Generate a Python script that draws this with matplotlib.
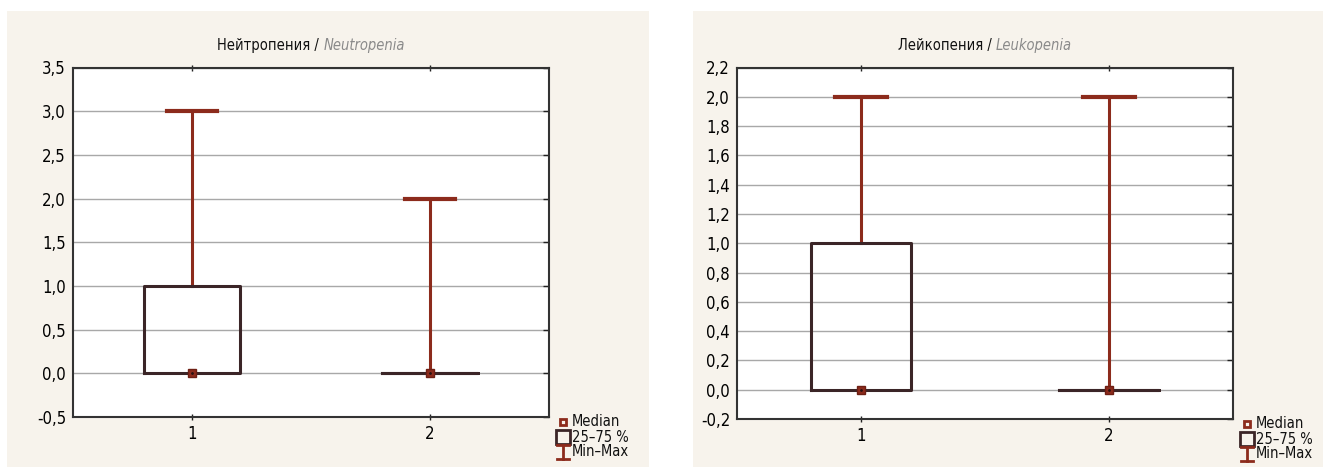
import matplotlib.pyplot as plt
from matplotlib.patches import Rectangle
from matplotlib.lines import Line2D

plt.rcParams['font.family'] = ['DejaVu Sans']
plt.rcParams['font.stretch'] = 'condensed'

# Data
groups = [1, 2]
neutro_med = [0.0, 0.0]
neutro_q1 = [0.0, 0.0]
neutro_q3 = [1.0, 0.0]
neutro_min = [0.0, 0.0]
neutro_max = [3.0, 2.0]

leuko_med = [0.0, 0.0]
leuko_q1 = [0.0, 0.0]
leuko_q3 = [1.0, 0.0]
leuko_min = [0.0, 0.0]
leuko_max = [2.0, 2.0]

neutro_ticks = [-0.5, 0.0, 0.5, 1.0, 1.5, 2.0, 2.5, 3.0, 3.5]
leuko_ticks = [-0.2, 0.0, 0.2, 0.4, 0.6, 0.8, 1.0, 1.2, 1.4, 1.6, 1.8, 2.0, 2.2]

BG = '#f7f3ec'
RED = '#8c2b1c'
BROWN = '#3b2527'

W, H = 1323, 467
fig = plt.figure(figsize=(W / 100, H / 100), dpi=100)

# beige panel backgrounds
for x0, x1 in [(7, 649), (693, 1323)]:
    fig.patches.append(Rectangle((x0 / W, 0), (x1 - x0) / W, 1 - 11 / H,
                                 transform=fig.transFigure, facecolor=BG,
                                 edgecolor='none', zorder=-10))


def panel(rect, med, q1, q3, lo, hi, ticks, ru, en):
    ax = fig.add_axes(rect)
    stats = [dict(med=m, q1=a, q3=b, whislo=c, whishi=d)
             for m, a, b, c, d in zip(med, q1, q3, lo, hi)]
    parts = ax.bxp(stats, positions=groups, widths=0.4, capwidths=0.21,
                   showfliers=False, patch_artist=False,
                   boxprops=dict(color=BROWN, lw=2.2),
                   whiskerprops=dict(color=RED, lw=2.2),
                   capprops=dict(color=RED, lw=3),
                   medianprops=dict(color=BROWN, lw=0))
    # lower caps sit on the box edge at 0 - hide them
    for cap in parts['caps'][0::2]:
        cap.set_visible(False)
    for box in parts['boxes']:
        box.set_zorder(4)
    ax.plot(groups, med, ls='none', marker='s', ms=6, mfc=RED, mec='#6e1f14',
            mew=1, zorder=5)
    ax.plot(groups, med, ls='none', marker='.', ms=2, color='#2a1010', zorder=6)

    ax.set_xlim(0.5, 2.5)
    ax.set_ylim(ticks[0], ticks[-1])
    ax.set_yticks(ticks)
    ax.set_yticklabels([f'{t:.1f}'.replace('.', ',') for t in ticks])
    ax.set_xticks(groups)
    ax.set_xticklabels([str(g) for g in groups])
    ax.yaxis.grid(True, color='#a8a8a8', lw=1)
    ax.set_axisbelow(True)
    ax.tick_params(axis='both', labelsize=12, length=4, width=1, color='#222222')
    ax.tick_params(axis='x', direction='inout', top=True)
    ax.tick_params(axis='y', direction='in', right=True, left=False, pad=5)
    for s in ax.spines.values():
        s.set_color('#333333')
        s.set_linewidth(1.5)

    # title in two parts
    fig.canvas.draw()
    bb = ax.get_position()
    xc = (bb.x0 + bb.x1) / 2
    t1 = fig.text(0, 0.9015, ru + ' / ', fontsize=10.5, color='#111111', va='center')
    t2 = fig.text(0, 0.9015, en, fontsize=10.5, color='#8a8a8a', style='italic',
                  va='center')
    r = fig.canvas.get_renderer()
    w1 = t1.get_window_extent(r).width / W
    w2 = t2.get_window_extent(r).width / W
    x0 = xc - (w1 + w2) / 2
    t1.set_x(x0)
    t2.set_x(x0 + w1)

    # legend outside the axes, bottom right
    pw = bb.width * W
    ph = bb.height * H
    xm = 1 + 14 / pw
    xt = 1 + 23 / pw
    y1, y2, y3 = -5 / ph, -20 / ph, -35 / ph
    ax.add_line(Line2D([xm], [y1], transform=ax.transAxes, marker='s', ms=5,
                       mfc=BG, mec=RED, mew=2, clip_on=False))
    ax.add_line(Line2D([xm], [y2], transform=ax.transAxes, marker='s', ms=10,
                       mfc=BG, mec=BROWN, mew=2, clip_on=False))
    dx = 6 / pw
    dy = 7 / ph
    for xs, ys in [([xm, xm], [y3 - dy, y3 + dy]),
                   ([xm - dx, xm + dx], [y3 + dy, y3 + dy]),
                   ([xm - dx, xm + dx], [y3 - dy, y3 - dy])]:
        ax.add_line(Line2D(xs, ys, transform=ax.transAxes, color=RED, lw=2,
                           clip_on=False))
    for yy, lab in [(y1, 'Median'), (y2, '25\u201375 %'), (y3, 'Min\u2013Max')]:
        ax.text(xt, yy, lab, transform=ax.transAxes, fontsize=10.5, va='center',
                ha='left', color='#111111', clip_on=False)
    return ax


panel([73 / W, 1 - 417 / H, 476 / W, 349.5 / H],
      neutro_med, neutro_q1, neutro_q3, neutro_min, neutro_max,
      neutro_ticks, 'Нейтропения', 'Neutropenia')
panel([737 / W, 1 - 419 / H, 496 / W, 351.5 / H],
      leuko_med, leuko_q1, leuko_q3, leuko_min, leuko_max,
      leuko_ticks, 'Лейкопения', 'Leukopenia')

fig.savefig('out.png', dpi=100, facecolor='white')
